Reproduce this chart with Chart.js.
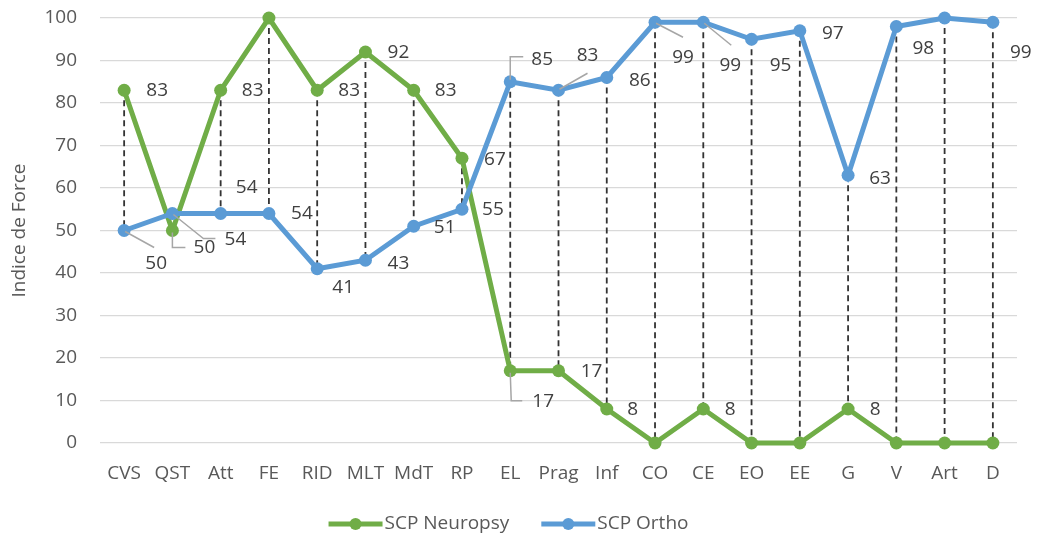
<!DOCTYPE html>
<html>
<head>
<meta charset="utf-8">
<title>Indice de Force</title>
<script src="https://cdn.jsdelivr.net/npm/chart.js@4.4.1/dist/chart.umd.min.js"></script>
<style>
  html, body { margin: 0; padding: 0; background: #fff; }
  canvas { display: block; }
</style>
</head>
<body>
<canvas id="chart" width="1037" height="538"></canvas>
<script>
// ================= DATA =================
const categories = ["CVS","QST","Att","FE","RID","MLT","MdT","RP","EL","Prag","Inf","CO","CE","EO","EE","G","V","Art","D"];
const neuropsy   = [83, 50, 83, 100, 83, 92, 83, 67, 17, 17, 8, 0, 8, 0, 0, 8, 0, 0, 0];
const ortho      = [50, 54, 54, 54, 41, 43, 51, 55, 85, 83, 86, 99, 99, 95, 97, 63, 98, 100, 99];
const seriesNames = ["SCP Neuropsy", "SCP Ortho"];
const yMin = 0, yMax = 100, yStep = 10;
const yTitle = "Indice de Force";

// ================= STYLE =================
const GREEN = "#70AD47";
const BLUE = "#5B9BD5";
const FONT = "'Open Sans', sans-serif";
const FONT_SIZE = 19;

// label placement relative to its point: [dx, dy, leader path] (null = no label)
const neuroLabelPos = [
  [33,0], [32,17,[[0,2],[0,17],[13,17]]], [32,0], null, [32,0], [33,1], [32,0], [33,1],
  [33,31,[[0,2],[1,30],[12,30]]], [33,1], [26,1], null, [27,1], null, null, [27,1], null, null, null
];
const orthoLabelPos = [
  [32,33,[[1,1],[30,17]]], [63,26,[[1,1],[31,25],[43,25]]], [26,-26], [33,0], [26,19], [33,3], [31,1], [31,0],
  [32,-22,[[0,-2],[0,-25],[13,-25]]], [29,-35,[[1,-1],[29,-17]]], [33,3], [28,35,[[1,1],[28,15]]],
  [27,43,[[1,1],[28,23]]], [29,26], [33,3], [32,3], [27,22], null, [28,30]
];

// ================= PLUGINS =================
// dashed high-low lines between the two series
const highLowLines = {
  id: "highLowLines",
  beforeDatasetsDraw(chart) {
    const ctx = chart.ctx;
    const a = chart.getDatasetMeta(0).data, b = chart.getDatasetMeta(1).data;
    ctx.save();
    ctx.strokeStyle = "#333333";
    ctx.lineWidth = 1.8;
    ctx.setLineDash([6, 4]);
    a.forEach((p, i) => {
      const q = b[i];
      ctx.beginPath();
      ctx.moveTo(p.x, Math.min(p.y, q.y));
      ctx.lineTo(p.x, Math.max(p.y, q.y));
      ctx.stroke();
    });
    ctx.restore();
  }
};

// value labels with leader lines where a label was moved
const valueLabels = {
  id: "valueLabels",
  afterDatasetsDraw(chart) {
    const ctx = chart.ctx;
    const layouts = [neuroLabelPos, orthoLabelPos];
    ctx.save();
    chart.data.datasets.forEach((ds, di) => {
      const pts = chart.getDatasetMeta(di).data;
      pts.forEach((p, i) => {
        const pos = layouts[di][i];
        if (!pos) return;
        if (pos[2]) {
          ctx.strokeStyle = "#a6a6a6";
          ctx.lineWidth = 1.5;
          ctx.beginPath();
          pos[2].forEach((o, k) => k ? ctx.lineTo(p.x + o[0], p.y + o[1]) : ctx.moveTo(p.x + o[0], p.y + o[1]));
          ctx.stroke();
        }
        ctx.fillStyle = "#404040";
        ctx.font = FONT_SIZE + "px " + FONT;
        ctx.textAlign = "center";
        ctx.textBaseline = "middle";
        ctx.fillText(String(ds.data[i]), p.x + pos[0], p.y + pos[1]);
      });
    });
    ctx.restore();
  }
};

// legend: line + marker then series name, centred under the chart
const lineLegend = {
  id: "lineLegend",
  afterDraw(chart) {
    const ctx = chart.ctx;
    const y = 524;
    ctx.save();
    ctx.font = FONT_SIZE + "px " + FONT;
    ctx.textBaseline = "middle";
    ctx.textAlign = "left";
    const colors = [GREEN, BLUE];
    const widths = seriesNames.map(n => 56 + ctx.measureText(n).width);
    const gap = 32;
    let x = (chart.width - (widths[0] + widths[1] + gap)) / 2 - 10;
    seriesNames.forEach((name, i) => {
      ctx.strokeStyle = colors[i];
      ctx.fillStyle = colors[i];
      ctx.lineWidth = 5;
      ctx.beginPath();
      ctx.moveTo(x, y); ctx.lineTo(x + 54, y);
      ctx.stroke();
      ctx.beginPath();
      ctx.arc(x + 27, y, 6, 0, Math.PI * 2);
      ctx.fill();
      ctx.fillStyle = "#595959";
      ctx.fillText(name, x + 56, y);
      x += widths[i] + gap;
    });
    ctx.restore();
  }
};

// ================= CHART =================
new Chart(document.getElementById("chart"), {
  type: "line",
  data: {
    labels: categories,
    datasets: [
      { label: seriesNames[0], data: neuropsy, borderColor: GREEN, backgroundColor: GREEN, clip: false,
        borderWidth: 5, pointRadius: 6.5, pointBorderWidth: 0, pointBackgroundColor: GREEN, order: 1 },
      { label: seriesNames[1], data: ortho, borderColor: BLUE, backgroundColor: BLUE, clip: false,
        borderWidth: 5, pointRadius: 6.5, pointBorderWidth: 0, pointBackgroundColor: BLUE, order: 0 }
    ]
  },
  options: {
    responsive: false,
    animation: false,
    layout: { padding: { top: 18, right: 20, bottom: 50, left: 0 } },
    plugins: { legend: { display: false }, tooltip: { enabled: false } },
    scales: {
      x: {
        offset: true,
        grid: { display: false, drawTicks: false },
        border: { display: false },
        ticks: { color: "#595959", font: { family: FONT, size: FONT_SIZE }, padding: 19, maxRotation: 0, autoSkip: false },
        afterFit: s => { s.height = 45; }
      },
      y: {
        min: yMin, max: yMax,
        grid: { color: "#d9d9d9", lineWidth: 1.3, drawTicks: false },
        border: { display: false },
        ticks: { stepSize: yStep, color: "#595959", font: { family: FONT, size: FONT_SIZE }, padding: 23 },
        title: { display: true, text: yTitle, color: "#595959", font: { family: FONT, size: FONT_SIZE }, padding: { top: 8, bottom: 0 } },
        afterFit: s => { s.width = 100; s.paddingTop = 0; s.paddingBottom = 0; }
      }
    }
  },
  plugins: [highLowLines, valueLabels, lineLegend]
});
</script>
</body>
</html>
